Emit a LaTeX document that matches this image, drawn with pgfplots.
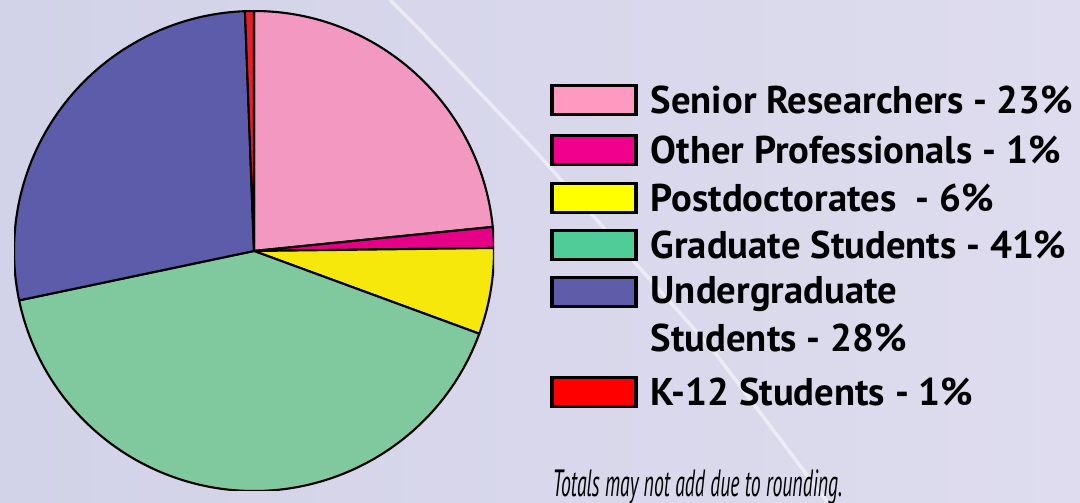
\documentclass[border=0pt]{standalone}
\usepackage{pgfplots}
\pgfplotsset{compat=1.18}
\usepackage{pgfplotstable}
\usepackage{fontspec}
\setmainfont{PT Sans}
\definecolor{bgA}{RGB}{210,210,232}
\definecolor{bgB}{RGB}{222,220,238}
\definecolor{pieSenior}{RGB}{243,152,192}
\definecolor{pieOther}{RGB}{230,0,135}
\definecolor{piePost}{RGB}{247,232,12}
\definecolor{pieGrad}{RGB}{128,200,158}
\definecolor{pieUnder}{RGB}{92,92,170}
\definecolor{pieK}{RGB}{230,30,40}
\definecolor{legSenior}{RGB}{255,153,192}
\definecolor{legOther}{RGB}{240,0,140}
\definecolor{legPost}{RGB}{255,255,0}
\definecolor{legGrad}{RGB}{80,204,153}
\definecolor{legUnder}{RGB}{95,92,170}
\definecolor{legK}{RGB}{255,0,0}
\pgfplotstableread{
label value col
Senior 23.4 pieSenior
Other 1.4 pieOther
Post 5.8 piePost
Grad 41.1 pieGrad
Under 27.7 pieUnder
K12 0.6 pieK
}\piedata
\begin{document}
\begin{tikzpicture}[x=1cm,y=1cm]
\useasboundingbox (0,0) rectangle (10.8,5.03);
\shade[left color=bgA, right color=bgB] (0,0) rectangle (10.8,5.03);
\draw[white, opacity=0.5, line width=1.0pt] (3.90,5.03) -- (4.20,4.73) -- (5.37,3.50) -- (7.13,1.53) -- (8.13,0.20) -- (8.28,0);
\begin{axis}[at={(2.54cm,2.52cm)}, anchor=center, scale only axis,
  width=4.8cm, height=4.8cm, xmin=-1, xmax=1, ymin=-1, ymax=1, hide axis]
\xdef\cum{0}
\pgfplotsforeachungrouped \i in {0,...,5}{
  \pgfplotstablegetelem{\i}{value}\of\piedata \let\v\pgfplotsretval
  \pgfplotstablegetelem{\i}{col}\of\piedata \let\c\pgfplotsretval
  \pgfmathsetmacro{\a}{90-3.6*\cum}
  \pgfmathsetmacro{\b}{90-3.6*(\cum+\v)}
  \edef\temp{\noexpand\filldraw[fill=\c, draw=black, line width=0.6pt, line join=round]
     (axis cs:0,0) -- (axis cs:{cos(\a)},{sin(\a)}) arc[start angle=\a, end angle=\b, radius=2.4cm] -- cycle;}
  \temp
  \pgfmathsetmacro{\n}{\cum+\v}
  \xdef\cum{\n}
}
\end{axis}
\begin{scope}[line width=0.9pt]
\foreach \y/\c in {4.03/legSenior,3.53/legOther,3.05/legPost,2.58/legGrad,2.11/legUnder,1.11/legK}{
  \filldraw[fill=\c, draw=black] (5.52,\y-0.145) rectangle (6.36,\y+0.145);
}
\end{scope}
\begin{scope}[every node/.style={anchor=base west, inner sep=0pt, font=\fontsize{11}{13}\selectfont\bfseries}]
\node at (6.50,3.89) {Senior Researchers - 23\%};
\node at (6.50,3.39) {Other Professionals - 1\%};
\node at (6.50,2.91) {Postdoctorates\ \ - 6\%};
\node at (6.50,2.44) {Graduate Students - 41\%};
\node at (6.50,1.99) {Undergraduate};
\node at (6.50,1.51) {Students - 28\%};
\node at (6.50,0.97) {K-12 Students - 1\%};
\end{scope}
\node[anchor=base west, inner sep=0pt] at (5.52,0.06) {\scalebox{0.52}[1]{\fontsize{10.8}{12}\selectfont\itshape Totals may not add due to rounding.}};
\end{tikzpicture}
\end{document}
